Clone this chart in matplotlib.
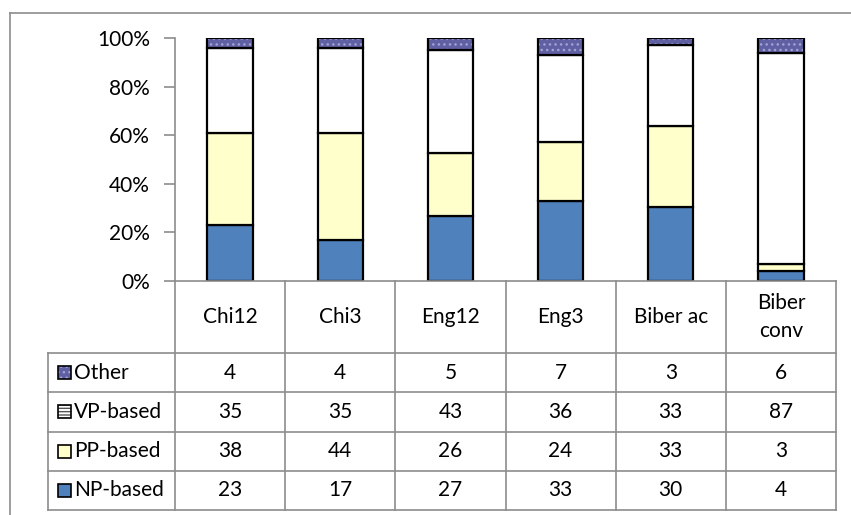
import matplotlib
matplotlib.use("Agg")
import matplotlib.pyplot as plt
from matplotlib.lines import Line2D
from matplotlib.patches import Rectangle
import numpy as np

plt.rcParams['font.family'] = ['Lato', 'DejaVu Sans']
plt.rcParams['hatch.linewidth'] = 1.0

categories = ['Chi12', 'Chi3', 'Eng12', 'Eng3', 'Biber ac', 'Biber\nconv']
series_names = ['Other', 'VP-based', 'PP-based', 'NP-based']   # table order (top to bottom)
np_based = [23, 17, 27, 33, 30, 4]
pp_based = [38, 44, 26, 24, 33, 3]
vp_based = [35, 35, 43, 36, 33, 87]
other = [4, 4, 5, 7, 3, 6]
yticks = [0, 20, 40, 60, 80, 100]

W, H = 851, 515
FS = 15
fig = plt.figure(figsize=(W / 100, H / 100), dpi=100)
GRID = '#8c8c8c'


def box(x0, y0, x1, y1):
    # pixel box (top-left origin) -> figure fraction rect
    return [x0 / W, 1 - y1 / H, (x1 - x0) / W, (y1 - y0) / H]


# outer frame (cut off on the right and bottom in the original)
fig.add_artist(Line2D([10 / W, 1], [1 - 13 / H] * 2, color=GRID, lw=1.2))
fig.add_artist(Line2D([10 / W] * 2, [1 - 13 / H, 0], color=GRID, lw=1.2))

# ---- stacked bars
ax = fig.add_axes(box(175, 38, 836, 281))
data = np.array([np_based, pp_based, vp_based, other], dtype=float)
pct = data / data.sum(axis=0) * 100
x = np.arange(len(categories))
bw = 0.41
bottom = np.zeros(len(categories))
styles = [
    dict(color='#4f81bd', hatch=None),
    dict(color='#ffffcc', hatch=None),
    dict(color='#ffffff', hatch=None),
    dict(color='#5f5fa3', hatch='...'),
]
for vals, st in zip(pct, styles):
    if st['hatch']:
        ax.bar(x, vals, bw, bottom=bottom, color=st['color'], edgecolor='#a4a4d4',
               hatch=st['hatch'], linewidth=0, zorder=2)
        ax.bar(x, vals, bw, bottom=bottom, fill=False, edgecolor='black', linewidth=1.6, zorder=3)
    else:
        ax.bar(x, vals, bw, bottom=bottom, color=st['color'], edgecolor='black',
               linewidth=1.6, zorder=2)
    bottom += vals

ax.set_xlim(-0.5, len(categories) - 0.5)
ax.set_ylim(0, 100)
ax.set_yticks(yticks)
ax.set_yticklabels([f'{t}%' for t in yticks], fontsize=FS)
ax.set_xticks([])
for s in ['top', 'right', 'bottom']:
    ax.spines[s].set_visible(False)
ax.spines['left'].set_color(GRID)
ax.spines['left'].set_linewidth(1.2)
ax.tick_params(axis='y', length=8, color=GRID, width=1.2, pad=10)
ax.patch.set_alpha(0)

# ---- data table
tab = fig.add_axes(box(48, 281, 836, 510))
col_w = (836 - 175) / len(categories)
left_edge = -0.5 - (175 - 48) / col_w
tab.set_xlim(left_edge, len(categories) - 0.5)
head_h = 72
row_h = (510 - 281 - head_h) / len(series_names)
tab.set_ylim(510 - 281, 0)
tab.axis('off')

lw = 1.2
# header row lines (start at the y axis)
tab.plot([-0.5, len(categories) - 0.5], [0, 0], color=GRID, lw=lw, clip_on=False)
for i in range(len(categories) + 1):
    tab.plot([i - 0.5] * 2, [0, 510 - 281], color=GRID, lw=lw, clip_on=False)
for r in range(len(series_names) + 1):
    y = head_h + r * row_h
    tab.plot([left_edge, len(categories) - 0.5], [y, y], color=GRID, lw=lw, clip_on=False)
tab.plot([left_edge] * 2, [head_h, 510 - 281], color=GRID, lw=lw, clip_on=False)

for i, c in enumerate(categories):
    tab.text(i, head_h / 2, c, ha='center', va='center', fontsize=FS, linespacing=1.55)

table_rows = [other, vp_based, pp_based, np_based]
key_styles = [
    dict(fc='#5f5fa3', hatch='...', ec='#a4a4d4'),
    dict(fc='white', hatch='-----', ec='#555555'),
    dict(fc='#ffffcc', hatch=None, ec='black'),
    dict(fc='#4f81bd', hatch=None, ec='black'),
]
key_w = 13 / col_w
for r, (name, vals, ks) in enumerate(zip(series_names, table_rows, key_styles)):
    yc = head_h + (r + 0.5) * row_h
    kx = left_edge + 10 / col_w
    if ks['hatch']:
        tab.add_patch(Rectangle((kx, yc - 6.5), key_w, 13, facecolor=ks['fc'], edgecolor=ks['ec'],
                                hatch=ks['hatch'], linewidth=0))
        tab.add_patch(Rectangle((kx, yc - 6.5), key_w, 13, fill=False, edgecolor='black', linewidth=1.2))
    else:
        tab.add_patch(Rectangle((kx, yc - 6.5), key_w, 13, facecolor=ks['fc'], edgecolor='black',
                                linewidth=1.2))
    tab.text(kx + key_w + 3 / col_w, yc, name, ha='left', va='center', fontsize=FS)
    for i, v in enumerate(vals):
        tab.text(i, yc, str(v), ha='center', va='center', fontsize=FS)

fig.savefig('out.png', dpi=100)
